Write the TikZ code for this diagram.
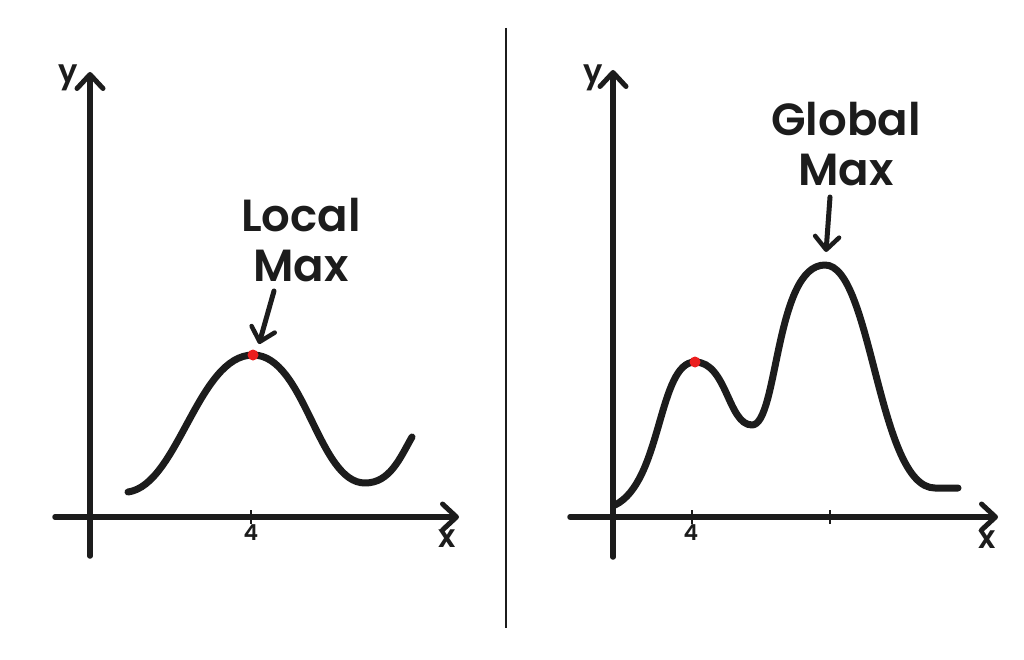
\documentclass[tikz,border=0pt]{standalone}
\usepackage{fontspec}
\setmainfont{Poppins}[BoldFont={Poppins SemiBold}]
\usetikzlibrary{arrows.meta}
\definecolor{ink}{RGB}{28,28,28}
\definecolor{dotred}{RGB}{235,30,30}
\tikzset{
  axis/.style={ink, line width=5.5pt, line cap=round, -{Straight Barb[length=14pt,width=26pt,line width=5pt,round]}},
  curve/.style={ink, line width=7pt, line cap=round, line join=round},
  pointer/.style={ink, line width=5pt, line cap=round, -{Straight Barb[length=13pt,width=24pt,line width=4.5pt,round]}},
  tick/.style={ink, line width=2.5pt},
  bigtxt/.style={text=ink, font=\fontsize{45}{50}\selectfont\bfseries, align=center, inner sep=0pt},
  axtxt/.style={text=ink, font=\fontsize{32}{32}\selectfont\bfseries, inner sep=0pt},
  numtxt/.style={text=ink, font=\fontsize{22}{22}\selectfont\bfseries, inner sep=0pt},
  maxdot/.style={circle, fill=dotred, minimum size=11pt, inner sep=0pt}
}
\begin{document}
\begin{tikzpicture}[x=1pt,y=-1pt]
\useasboundingbox[fill=white] (0,0) rectangle (1024,660);
% divider
\coordinate (dtop) at (506,28);
\coordinate (dbot) at (506,628);
\draw[ink, line width=2pt] (dtop) -- (dbot);

% ===== left panel =====
\coordinate (lyb) at (90,556);
\coordinate (lyt) at (90,72);
\coordinate (lxl) at (55,517);
\coordinate (lxr) at (459,517);
\draw[axis] (lyb) -- (lyt);
\draw[axis] (lxl) -- (lxr);
\node[axtxt] (ly) at (68,78) {y};
\node[axtxt] (lx) at (447,539) {x};
\coordinate (lt1) at (251,510);
\coordinate (lt2) at (251,524);
\draw[tick] (lt1) -- (lt2);
\node[numtxt] (l4) at (251,533) {4};
\coordinate (c0) at (128,492);
\coordinate (cp) at (253,355);
\coordinate (cm) at (365,483);
\coordinate (ce) at (412,437);
\draw[curve] (c0) .. controls (178,485) and (198,355) .. (cp)
  .. controls (305,355) and (318,483) .. (cm)
  .. controls (390,483) and (400,458) .. (ce);
\node[maxdot] (ldot) at (cp) {};
\node[bigtxt] (local) at (301,240) {Local\\Max};
\coordinate (la1) at (274,291);
\coordinate (la2) at (259,344);
\draw[pointer] (la1) -- (la2);

% ===== right panel =====
\coordinate (ryb) at (613,557);
\coordinate (ryt) at (613,70);
\coordinate (rxl) at (570,517);
\coordinate (rxr) at (998,517);
\draw[axis] (ryb) -- (ryt);
\draw[axis] (rxl) -- (rxr);
\node[axtxt] (ry) at (593,78) {y};
\node[axtxt] (rx) at (987,540) {x};
\coordinate (rt1) at (692,510);
\coordinate (rt2) at (692,524);
\draw[tick] (rt1) -- (rt2);
\coordinate (rt3) at (830,510);
\coordinate (rt4) at (830,524);
\draw[tick] (rt3) -- (rt4);
\node[numtxt] (r4) at (691,533) {4};
\coordinate (d0) at (615,505);
\coordinate (dp1) at (695,362);
\coordinate (dm) at (752,425);
\coordinate (dp2) at (825,265);
\coordinate (dl) at (935,488);
\coordinate (de) at (958,488);
\draw[curve] (d0) .. controls (662,482) and (658,362) .. (dp1)
  .. controls (727,362) and (728,425) .. (dm)
  .. controls (778,425) and (775,265) .. (dp2)
  .. controls (872,265) and (878,488) .. (dl) -- (de);
\node[maxdot] (rdot) at (dp1) {};
\node[bigtxt] (global) at (846,144) {Global\\Max};
\coordinate (ra1) at (830,197);
\coordinate (ra2) at (826,252);
\draw[pointer] (ra1) -- (ra2);
\end{tikzpicture}
\end{document}
